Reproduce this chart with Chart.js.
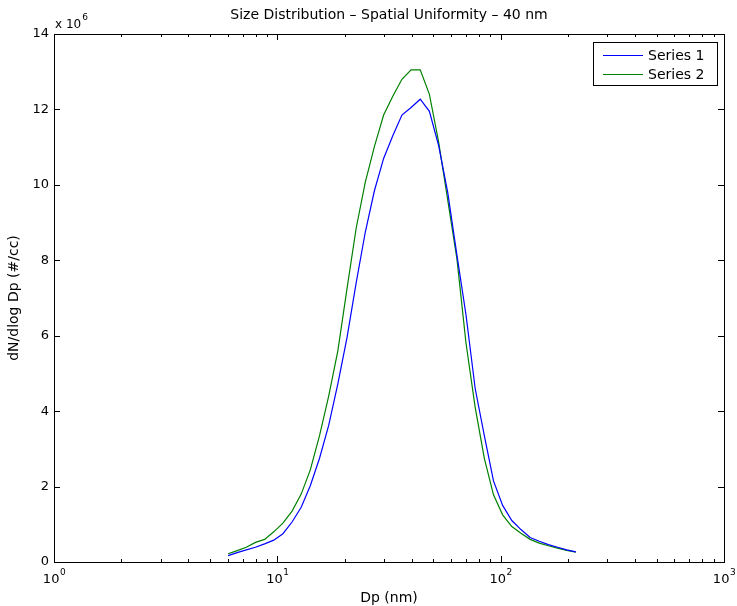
<!DOCTYPE html>
<html><head><meta charset="utf-8">
<script src="https://cdn.jsdelivr.net/npm/chart.js@4.4.0/dist/chart.umd.min.js"></script>
<style>html,body{margin:0;padding:0;background:#fff;}#wrap{width:737px;height:606px;position:relative;}</style>
</head><body><div id="wrap"><canvas id="c" width="737" height="606"></canvas></div>
<script>
// particle diameter (nm)
const diameters = [6.02,6.61,7.26,7.98,8.77,9.64,10.59,11.64,12.79,14.06,15.45,16.98,18.66,20.51,22.54,24.77,27.22,29.92,32.88,36.13,39.71,43.64,47.96,52.71,57.93,63.66,69.96,76.89,84.50,92.87,102.06,112.16,123.26,135.46,148.87,163.61,179.81,197.61,217.17];
// dN/dlogDp in units of 10^6 #/cc
const series1 = [0.17,0.25,0.32,0.39,0.48,0.58,0.75,1.06,1.45,2.03,2.75,3.62,4.72,5.95,7.40,8.75,9.85,10.70,11.30,11.85,12.05,12.27,11.95,11.05,9.80,8.15,6.55,4.60,3.35,2.15,1.50,1.10,0.86,0.65,0.55,0.46,0.39,0.32,0.27];
const series2 = [0.22,0.30,0.39,0.52,0.60,0.80,1.03,1.35,1.80,2.45,3.35,4.40,5.60,7.25,8.85,10.07,11.02,11.85,12.35,12.80,13.05,13.05,12.40,11.15,9.60,8.05,5.80,4.10,2.75,1.78,1.25,0.94,0.76,0.60,0.50,0.43,0.37,0.31,0.26];
const seriesNames = ['Series 1','Series 2'];
const seriesColors = ['#0000ff','#008000'];
const yTickValues = [0,2,4,6,8,10,12,14];
const xDecades = [1,10,100,1000];
const xDecadeExponents = ['0','1','2','3'];
const yMultiplierExponent = '6';
const titleText = 'Size Distribution \u2013 Spatial Uniformity \u2013 40 nm';
const xTitle = 'Dp (nm)';
const yTitle = 'dN/dlog Dp (#/cc)';

const FONT = "'DejaVu Sans', 'Liberation Sans', Arial, sans-serif";
const TICK_SIZE = 13, LABEL_SIZE = 14, SUP_SIZE = 9;

const decor = {
  id: 'decor',
  afterDraw(chart) {
    const ctx = chart.ctx, a = chart.chartArea;
    const xs = chart.scales.x, ys = chart.scales.y;
    ctx.save();
    ctx.strokeStyle = '#000'; ctx.fillStyle = '#000'; ctx.lineWidth = 1;
    // box
    ctx.strokeRect(Math.round(a.left)+0.5, Math.round(a.top)+0.5, Math.round(a.right-a.left), Math.round(a.bottom-a.top));
    // y ticks
    ctx.beginPath();
    yTickValues.forEach(v => {
      const y = Math.round(ys.getPixelForValue(v)) + 0.5;
      ctx.moveTo(a.left, y); ctx.lineTo(a.left + 6, y);
      ctx.moveTo(a.right, y); ctx.lineTo(a.right - 6, y);
    });
    // x ticks (major + minor)
    xDecades.forEach((d, i) => {
      const x = Math.round(xs.getPixelForValue(d)) + 0.5;
      ctx.moveTo(x, a.bottom); ctx.lineTo(x, a.bottom - 6);
      ctx.moveTo(x, a.top); ctx.lineTo(x, a.top + 6);
      if (i < xDecades.length - 1) {
        for (let m = 2; m <= 9; m++) {
          const xm = Math.round(xs.getPixelForValue(d * m)) + 0.5;
          ctx.moveTo(xm, a.bottom); ctx.lineTo(xm, a.bottom - 3);
          ctx.moveTo(xm, a.top); ctx.lineTo(xm, a.top + 3);
        }
      }
    });
    ctx.stroke();
    // x tick labels 10^n
    xDecades.forEach((d, i) => {
      const x = xs.getPixelForValue(d);
      ctx.font = TICK_SIZE + 'px ' + FONT;
      const wb = ctx.measureText('10').width;
      ctx.font = SUP_SIZE + 'px ' + FONT;
      const we = ctx.measureText(xDecadeExponents[i]).width;
      const x0 = x - (wb + we) / 2;
      ctx.textAlign = 'left'; ctx.textBaseline = 'alphabetic';
      ctx.font = TICK_SIZE + 'px ' + FONT;
      ctx.fillText('10', x0, a.bottom + 21);
      ctx.font = SUP_SIZE + 'px ' + FONT;
      ctx.fillText(xDecadeExponents[i], x0 + wb + 0.5, a.bottom + 13);
    });
    // multiplier x 10^6
    ctx.font = (TICK_SIZE - 1) + 'px ' + FONT; ctx.textAlign = 'left'; ctx.textBaseline = 'alphabetic';
    ctx.fillText('x 10', a.left + 1, a.top - 6);
    const wm = ctx.measureText('x 10').width;
    ctx.font = SUP_SIZE + 'px ' + FONT;
    ctx.fillText(yMultiplierExponent, a.left + 1 + wm + 1, a.top - 14);
    // title
    ctx.font = LABEL_SIZE + 'px ' + FONT; ctx.textAlign = 'center'; ctx.textBaseline = 'middle';
    ctx.fillText(titleText, (a.left + a.right) / 2, 15);
    // x title
    ctx.fillText(xTitle, (a.left + a.right) / 2, 598);
    // y title
    ctx.save();
    ctx.translate(14, (a.top + a.bottom) / 2);
    ctx.rotate(-Math.PI / 2);
    ctx.fillText(yTitle, 0, 0);
    ctx.restore();
    // legend
    const lx = 593, ly = 42, lw = 124, lh = 43;
    ctx.fillStyle = '#fff';
    ctx.fillRect(lx, ly, lw, lh);
    ctx.strokeStyle = '#000';
    ctx.strokeRect(lx + 0.5, ly + 0.5, lw, lh);
    chart.data.datasets.forEach((ds, i) => {
      const yy = ly + 13 + i * 19;
      ctx.strokeStyle = ds.borderColor; ctx.lineWidth = 1;
      ctx.beginPath(); ctx.moveTo(lx + 10, yy + 0.5); ctx.lineTo(lx + 50, yy + 0.5); ctx.stroke();
      ctx.fillStyle = '#000'; ctx.font = LABEL_SIZE + 'px ' + FONT; ctx.textAlign = 'left'; ctx.textBaseline = 'middle';
      ctx.fillText(ds.label, lx + 55, yy + 1);
    });
    ctx.restore();
  }
};

new Chart(document.getElementById('c').getContext('2d'), {
  type: 'line',
  data: {
    datasets: [series1, series2].map((s, i) => ({
      label: seriesNames[i],
      data: diameters.map((d, k) => ({ x: d, y: s[k] })),
      borderColor: seriesColors[i],
      borderWidth: 1.2,
      pointRadius: 0,
      tension: 0,
      fill: false
    }))
  },
  options: {
    responsive: false,
    animation: false,
    devicePixelRatio: 1,
    layout: { padding: { left: 0, top: 34, right: 13, bottom: 0 } },
    plugins: { legend: { display: false }, title: { display: false }, tooltip: { enabled: false } },
    scales: {
      x: {
        type: 'logarithmic', min: 1, max: 1000,
        grid: { display: false }, border: { display: false },
        ticks: { display: false },
        afterFit(s) { s.height = 44; }
      },
      y: {
        type: 'linear', min: 0, max: 14,
        grid: { display: false, drawTicks: false }, border: { display: false },
        afterBuildTicks(s) { s.ticks = yTickValues.map(v => ({ value: v })); },
        ticks: { padding: 5, color: '#000', font: { family: FONT, size: TICK_SIZE } },
        afterFit(s) { s.width = 54; }
      }
    }
  },
  plugins: [decor]
});
</script>
</body></html>
